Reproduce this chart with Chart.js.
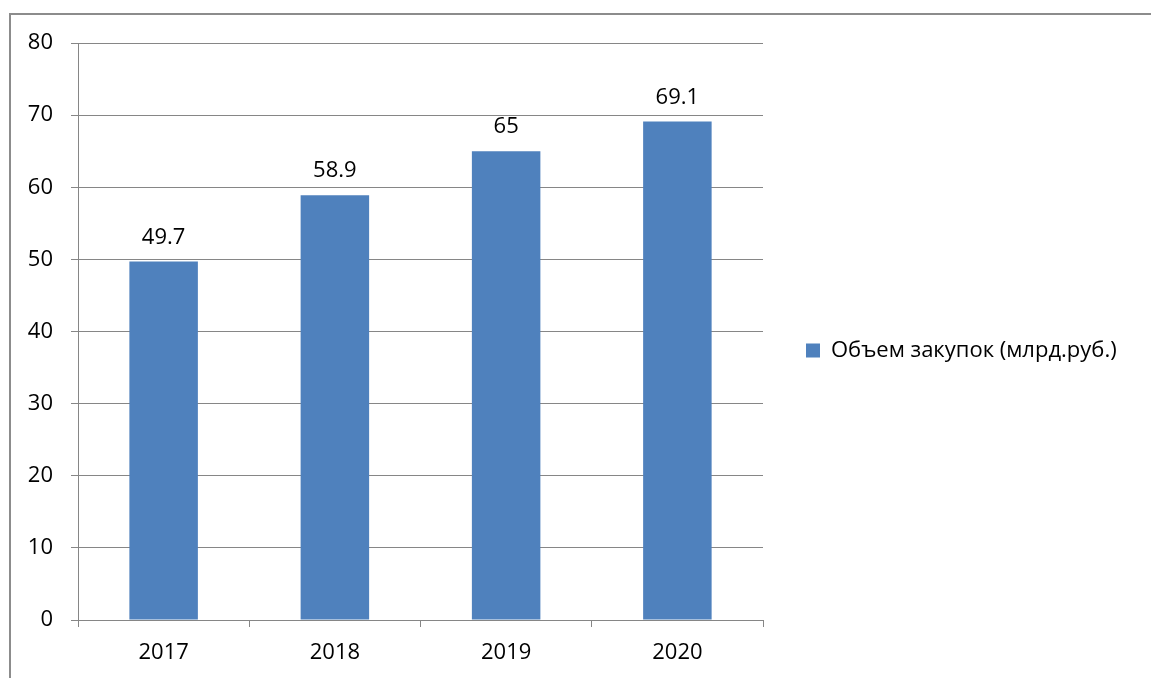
<!DOCTYPE html>
<html>
<head>
<meta charset="utf-8">
<script src="https://cdn.jsdelivr.net/npm/chart.js@4"></script>
<style>
  body { margin: 0; background: #fff; }
  #wrap { position: relative; width: 1151px; height: 678px; overflow: hidden; }
  #frame { position: absolute; left: 9px; top: 13px; width: 1200px; height: 700px;
           border-left: 2px solid #8c8c8c; border-top: 2px solid #8c8c8c; }
  canvas { position: absolute; left: 0; top: 0; }
</style>
</head>
<body>
<div id="wrap">
  <div id="frame"></div>
  <canvas id="myChart" width="1151" height="678"></canvas>
</div>
<script>
// годы и объем закупок
var years = ['2017', '2018', '2019', '2020'];
var volumes = [49.7, 58.9, 65, 69.1];
var seriesName = 'Объем закупок (млрд.руб.)';

var fontName = "'Open Sans', 'Noto Sans', sans-serif";
var fontSize = 22;

// ширина легенды, чтобы область графика заканчивалась около x=763
var ctx1 = document.getElementById('myChart');
var c2d = ctx1.getContext('2d');
c2d.font = fontSize + 'px ' + fontName;
var textW = c2d.measureText(seriesName).width;
var legendPad = 43;
var legendW = legendPad + 14 + fontSize / 2 + textW + 10;
var padRight = Math.max(0, 1151 - 763 - legendW);

// подписи значений над столбцами
var valueLabels = {
    id: 'valueLabels',
    afterLayout: function(chart) {
        // легенда чуть выше центра
        chart.legend.top -= 10;
        chart.legend.bottom -= 10;
    },
    afterDatasetsDraw: function(chart) {
        var ctx = chart.ctx;
        var meta = chart.getDatasetMeta(0);
        ctx.save();
        ctx.font = fontSize + 'px ' + fontName;
        ctx.fillStyle = '#000';
        ctx.textAlign = 'center';
        ctx.textBaseline = 'alphabetic';
        meta.data.forEach(function(bar, i) {
            ctx.fillText(String(volumes[i]), bar.x, bar.y - 18);
        });
        ctx.restore();
    }
};

var myChart = new Chart(ctx1, {
    type: 'bar',
    data: {
        labels: years,
        datasets: [{
            label: seriesName,
            data: volumes,
            backgroundColor: '#4f81bd',
            barPercentage: 0.4,
            categoryPercentage: 1
        }]
    },
    options: {
        responsive: false,
        animation: false,
        layout: { padding: { top: 43, left: 0, right: padRight, bottom: 0 } },
        plugins: {
            legend: {
                position: 'right',
                maxWidth: 600,
                labels: {
                    boxWidth: 14,
                    boxHeight: 14,
                    padding: legendPad,
                    color: '#000',
                    font: { family: fontName, size: fontSize }
                }
            },
            tooltip: { enabled: false }
        },
        scales: {
            x: {
                grid: { drawOnChartArea: false, drawTicks: true, tickLength: 7, color: '#868686' },
                border: { color: '#868686' },
                ticks: { color: '#000', padding: 13, font: { family: fontName, size: fontSize } },
                afterFit: function(s) { s.height = 58; }
            },
            y: {
                min: 0,
                max: 80,
                ticks: { stepSize: 10, color: '#000', padding: 18, font: { family: fontName, size: fontSize } },
                grid: { color: '#868686', tickLength: 7 },
                border: { color: '#868686' },
                afterFit: function(s) { s.width = 78; }
            }
        }
    },
    plugins: [valueLabels]
});
</script>
</body>
</html>
